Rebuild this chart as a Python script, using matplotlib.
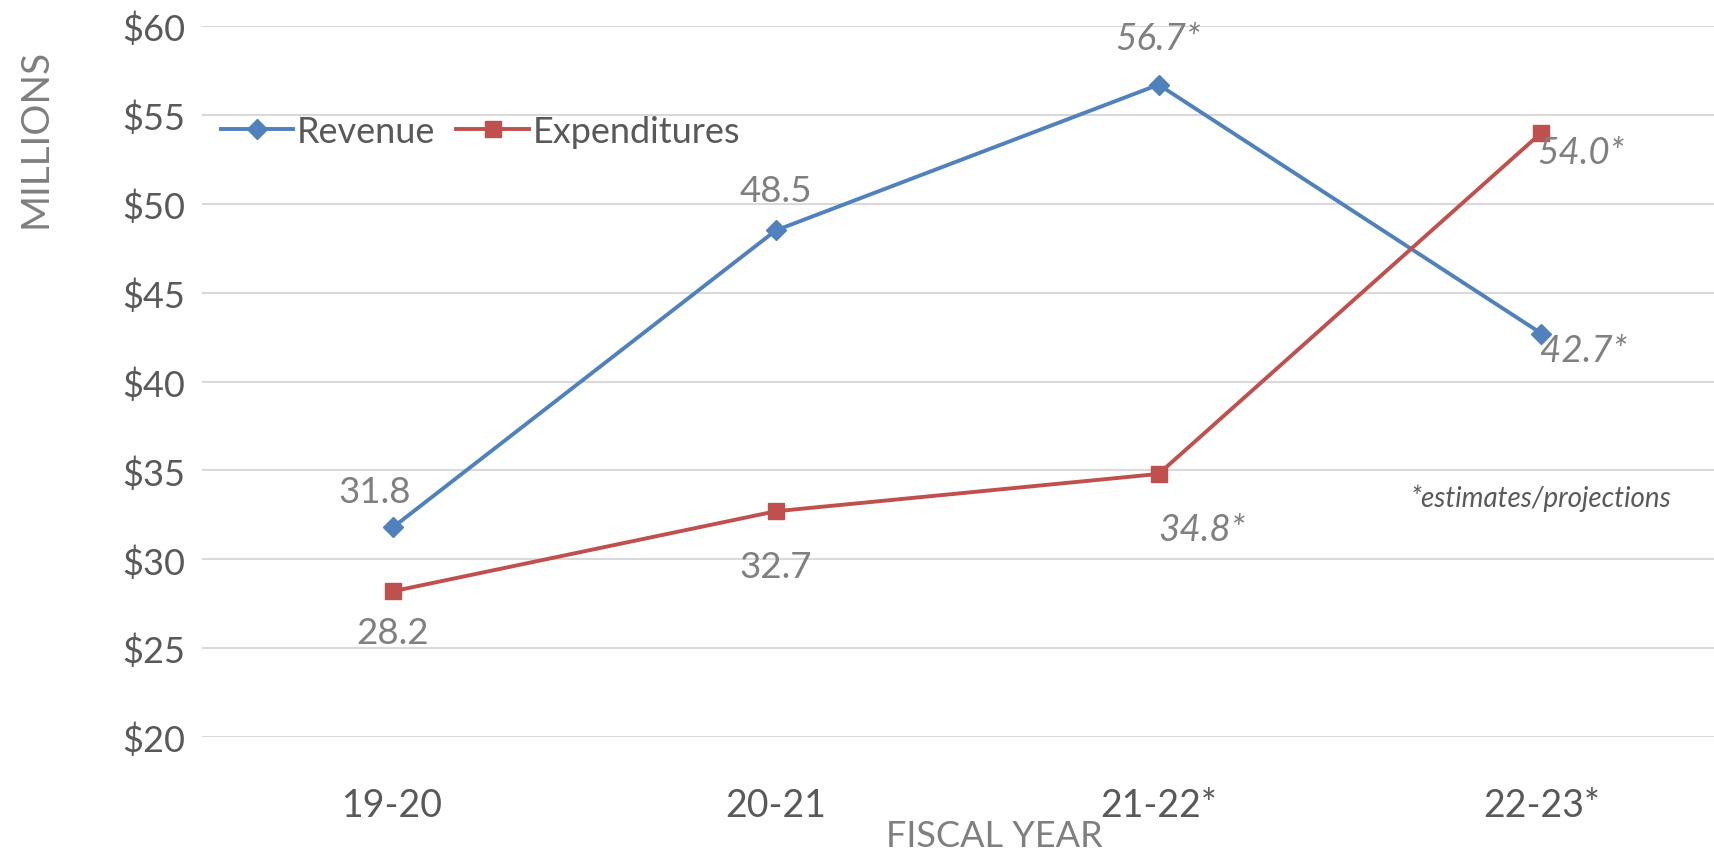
import matplotlib.pyplot as plt

plt.rcParams['font.family'] = ['Lato', 'DejaVu Sans']

# data
years = ['19-20', '20-21', '21-22*', '22-23*']
revenue = [31.8, 48.5, 56.7, 42.7]
expenditures = [28.2, 32.7, 34.8, 54.0]
rev_labels = ['31.8', '48.5', '56.7*', '42.7*']
exp_labels = ['28.2', '32.7', '34.8*', '54.0*']
yticks = [20, 25, 30, 35, 40, 45, 50, 55, 60]

blue = '#4f81bd'
red = '#c0504d'
lblgrey = '#808080'
tickgrey = '#595959'

fig = plt.figure(figsize=(17.14, 8.54), dpi=100)
ax = fig.add_axes([0.1176, 0.1358, 0.8934, 0.8326])

x = range(len(years))
ax.plot(x, revenue, color=blue, lw=2.8, marker='D', ms=10, label='Revenue', zorder=3)
ax.plot(x, expenditures, color=red, lw=2.8, marker='s', ms=11, label='Expenditures', zorder=3)

ax.set_xlim(-0.5, 3.5)
ax.set_ylim(20, 60)
ax.set_yticks(yticks)
ax.set_yticklabels(['$%d' % v for v in yticks])
ax.set_xticks(list(x))
ax.set_xticklabels(years)
ax.tick_params(length=0, colors=tickgrey)
ax.tick_params(axis='y', labelsize=26, pad=12)
ax.tick_params(axis='x', labelsize=27, pad=36)
ax.grid(axis='y', color='#d9d9d9', lw=1.5)
ax.set_axisbelow(True)
for s in ax.spines.values():
    s.set_visible(False)

# data labels (offsets in points)
rev_off = [(-13, 26, 'center'), (0, 29, 'center'), (0, 33, 'center'), (-1, -12, 'left')]
exp_off = [(0, -30, 'center'), (0, -40, 'center'), (31, -40, 'center'), (-3, -14, 'left')]
for i in x:
    dx, dy, ha = rev_off[i]
    ax.annotate(rev_labels[i], (i, revenue[i]), xytext=(dx, dy), textcoords='offset points',
                ha=ha, va='center', fontsize=26.5, color=lblgrey,
                style='italic' if '*' in rev_labels[i] else 'normal', zorder=4)
    dx, dy, ha = exp_off[i]
    ax.annotate(exp_labels[i], (i, expenditures[i]), xytext=(dx, dy), textcoords='offset points',
                ha=ha, va='center', fontsize=26.5, color=lblgrey,
                style='italic' if '*' in exp_labels[i] else 'normal', zorder=4)

ax.text(3, 33.5, '*estimates/projections', ha='center', va='center', fontsize=20,
        style='italic', color=tickgrey)

leg = ax.legend(loc='upper left', bbox_to_anchor=(0.003, 0.895), ncol=2, frameon=False,
                fontsize=26, handlelength=2.0, handletextpad=0.1, columnspacing=0.6,
                borderaxespad=0)
for t in leg.get_texts():
    t.set_color(tickgrey)

fig.text(0.021, 0.838, 'MILLIONS', rotation=90, ha='center', va='center', fontsize=28, color='#7f7f7f')
fig.text(0.58, 0.02, 'FISCAL YEAR', ha='center', va='center', fontsize=26, color='#7f7f7f')

fig.savefig('out.png', dpi=100)
